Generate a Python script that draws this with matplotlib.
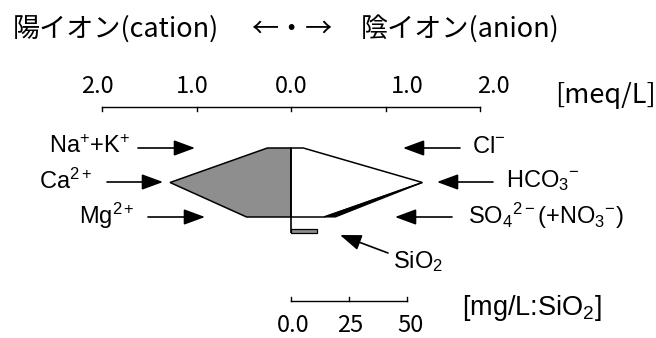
import numpy as np
import matplotlib
matplotlib.use("Agg")
import matplotlib.pyplot as plt
from matplotlib.patches import Polygon, Rectangle

plt.rcParams['font.family'] = ['Noto Sans CJK JP', 'DejaVu Sans']
plt.rcParams['mathtext.fontset'] = 'custom'
plt.rcParams['mathtext.rm'] = 'Liberation Sans'
plt.rcParams['mathtext.it'] = 'Liberation Sans:italic'
plt.rcParams['mathtext.bf'] = 'Liberation Sans:bold'

# --- data (meq/L), rows from top: Na+K / Ca / Mg, Cl / HCO3 / SO4 ---
cation_names = [r'Na$^{+}$+K$^{+}$', r'Ca$^{2+}$', r'Mg$^{2+}$']
cation_meq = [0.25, 1.28, 0.47]
anion_names = [r'Cl$^{-}$', r'HCO$_{3}$$^{-}$', r'SO$_{4}$$^{2-}$(+NO$_{3}$$^{-}$)']
anion_meq = [0.13, 1.39, 0.35]
no3_meq = 0.12
sio2_mgl = 11.2

meq_ticks = [-2, -1, 0, 1, 2]
meq_ticklabels = ['2.0', '1.0', '0.0', '1.0', '2.0']
sio2_ticks = [0, 25, 50]
sio2_ticklabels = ['0.0', '25', '50']

W, H = 656, 338
X0, SX = 291.0, 94.5      # pixel of 0 meq, pixels per meq
Y0, SY = 182.5, 34.5      # pixel of middle row, pixels per row
SIO2_SCALE = 116.0 / 50 / SX   # meq-axis units per mg/L


def px(xp, yp):
    """pixel position -> data coords"""
    return (xp - X0) / SX, (Y0 - yp) / SY


fig = plt.figure(figsize=(W / 100, H / 100), dpi=100)
ax = fig.add_axes([0, 0, 1, 1])
ax.set_xlim(-X0 / SX, (W - X0) / SX)
ax.set_ylim((Y0 - H) / SY, Y0 / SY)
ax.axis('off')

rows = np.array([1, 0, -1])

# cation side (grey)
cat = [(0, rows[0])] + [(-v, r) for v, r in zip(cation_meq, rows)] + [(0, rows[-1])]
ax.add_patch(Polygon(cat, closed=True, facecolor='#8e8e8e', edgecolor='black', lw=1.1,
                     joinstyle='miter'))
# anion side (white)
ani = [(0, rows[0])] + [(v, r) for v, r in zip(anion_meq, rows)] + [(0, rows[-1])]
ax.add_patch(Polygon(ani, closed=True, facecolor='white', edgecolor='black', lw=1.1,
                     joinstyle='miter'))
# NO3 wedge
wedge = [(anion_meq[2], rows[2]), (anion_meq[2] + no3_meq, rows[2]), (anion_meq[1], rows[1])]
ax.add_patch(Polygon(wedge, closed=True, facecolor='black', edgecolor='black', lw=0.8))

# SiO2 bar
bar_y, bar_h = (Y0 - 233) / SY, 4 / SY
ax.add_patch(Rectangle((0, bar_y), sio2_mgl * SIO2_SCALE, bar_h, facecolor='#8e8e8e',
                       edgecolor='black', lw=0.9))
ax.plot([0, 0], [rows[0], bar_y], color='black', lw=1.2, solid_capstyle='butt')

# top meq scale
ty = (Y0 - 107) / SY
ax.plot([meq_ticks[0], meq_ticks[-1]], [ty, ty], color='black', lw=1.0)
for t in meq_ticks:
    ax.plot([t, t], [ty, ty - 4 / SY], color='black', lw=1.0)
lab_dx = [-5, -4, 0, 22, 13]
for t, lab, d in zip(meq_ticks, meq_ticklabels, lab_dx):
    ax.text(t + d / SX, (Y0 - 86) / SY, lab, ha='center', va='center', fontsize=17)
ax.text(*px(555, 95), '[meq/L]', ha='left', va='center', fontsize=19.5)

# bottom SiO2 scale
by = (Y0 - 301) / SY
sx = np.array(sio2_ticks) * SIO2_SCALE
ax.plot([sx[0], sx[-1]], [by, by], color='black', lw=1.0)
for t in sx:
    ax.plot([t, t], [by, by + 4 / SY], color='black', lw=1.0)
for t, lab, d in zip(sx, sio2_ticklabels, [2, 1, 3]):
    ax.text(t + d / SX, (Y0 - 326) / SY, lab, ha='center', va='center', fontsize=17)
ax.text(*px(462, 308), r'[mg/L:SiO$_{2}$]', ha='left', va='center', fontsize=19.5,
        family='Liberation Sans')

# title
fig.text(13 / W, 1 - 29 / H, '陽イオン(cation)', ha='left', va='center', fontsize=19.5)
fig.text(292 / W, 1 - 29 / H, '←・→', ha='center', va='center', fontsize=19.5)
fig.text(361 / W, 1 - 29 / H, '陰イオン(anion)', ha='left', va='center', fontsize=19.5)

arrow = dict(arrowstyle='-|>,head_length=0.65,head_width=0.24', color='black', lw=1.2,
             mutation_scale=20, shrinkA=0, shrinkB=0)

# cation labels and arrows
cat_lab_x = [130, 92, 135]
cat_arr = [(138, 195), (107, 163), (148, 205)]
row_px = [148, 182, 217]
for name, lx, (a0, a1), yp in zip(cation_names, cat_lab_x, cat_arr, row_px):
    ax.text(*px(lx, yp - 1), name, ha='right', va='center', fontsize=17,
            family='Liberation Sans')
    ax.annotate('', xy=px(a1, yp), xytext=px(a0, yp), arrowprops=arrow)

# anion labels and arrows
ani_lab_x = [472, 506, 468]
ani_arr = [(460, 403), (493, 437), (452, 395)]
for name, lx, (a0, a1), yp in zip(anion_names, ani_lab_x, ani_arr, row_px):
    ax.text(*px(lx, yp - 1), name, ha='left', va='center', fontsize=17,
            family='Liberation Sans')
    ax.annotate('', xy=px(a1, yp), xytext=px(a0, yp), arrowprops=arrow)

# SiO2 label
ax.annotate('', xy=px(340, 235), xytext=px(388, 253), arrowprops=arrow)
ax.text(*px(393, 262), r'SiO$_{2}$', ha='left', va='center', fontsize=17,
        family='Liberation Sans')

fig.savefig('out.png', dpi=100)
